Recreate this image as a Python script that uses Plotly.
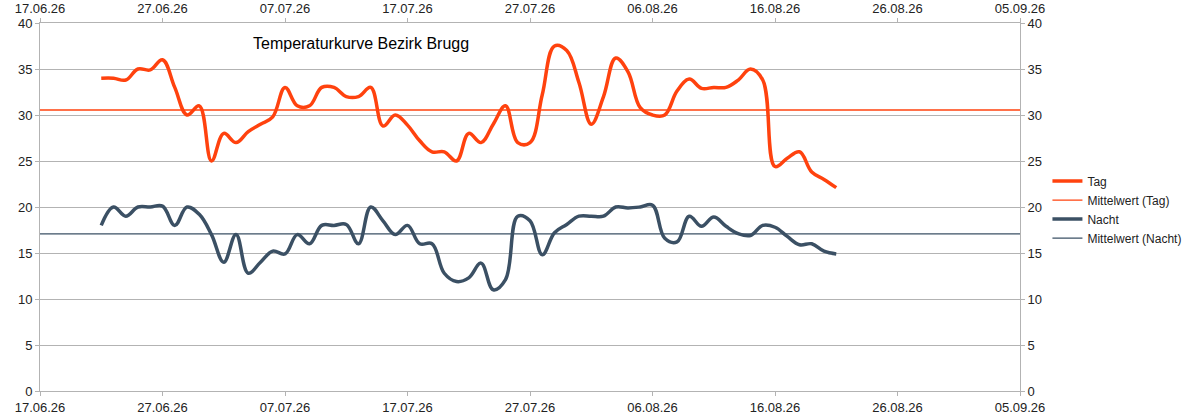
import pandas as pd
import numpy as np
import plotly.graph_objects as go

# ---- data ----
start_date = "2026-06-22"
tag = [34.0, 34.0, 33.8, 35.0, 34.9, 36.0, 33.0, 30.0, 31.0, 25.0,
       28.0, 27.0, 28.2, 29.0, 29.8, 33.0, 31.0, 31.0, 33.0, 33.0,
       32.0, 32.0, 33.0, 28.8, 30.0, 28.9, 27.2, 26.0, 26.0, 25.0,
       28.0, 27.0, 29.0, 31.0, 27.0, 27.0, 32.2, 37.5, 37.0, 33.5,
       29.0, 32.0, 36.2, 34.7, 30.8, 30.0, 30.0, 32.6, 33.9, 32.9,
       33.0, 33.0, 33.8, 35.0, 33.8, 24.4, 25.3, 26.0, 23.8, 23.0, 22.1]
nacht = [18.0, 20.0, 19.0, 20.0, 20.0, 20.1, 18.0, 20.0, 19.2, 17.0,
         14.0, 17.0, 12.8, 14.0, 15.2, 14.9, 17.0, 16.0, 18.0, 18.0,
         18.1, 16.0, 20.0, 18.5, 17.0, 18.0, 16.0, 16.0, 12.8, 11.9,
         12.3, 13.9, 11.0, 12.1, 19.0, 18.5, 14.8, 17.2, 18.1, 19.0,
         19.0, 19.0, 20.0, 19.9, 20.0, 20.2, 16.6, 16.2, 19.0, 17.9,
         18.9, 17.9, 17.1, 16.9, 18.0, 17.8, 16.8, 15.9, 16.0, 15.2, 14.9]
x_range = ["2026-06-17", "2026-09-05"]
title_text = "Temperaturkurve Bezirk Brugg"
names = ["Tag", "Mittelwert (Tag)", "Nacht", "Mittelwert (Nacht)"]

dates = pd.date_range(start_date, periods=len(tag), freq="D")
mean_tag = float(np.mean(tag))
mean_nacht = float(np.mean(nacht))

C_TAG = "#ff420e"
C_NACHT = "#3b5064"
GRID = "#b3b3b3"
FONT = "Liberation Sans"

fig = go.Figure()
fig.add_trace(go.Scatter(x=dates, y=tag, mode="lines", name=names[0],
                         line=dict(color=C_TAG, width=3.5, shape="spline", smoothing=1.1)))
fig.add_trace(go.Scatter(x=x_range, y=[mean_tag, mean_tag], mode="lines", name=names[1],
                         line=dict(color=C_TAG, width=1.3), xaxis="x2", yaxis="y2"))
fig.add_trace(go.Scatter(x=dates, y=nacht, mode="lines", name=names[2],
                         line=dict(color=C_NACHT, width=3.5, shape="spline", smoothing=1.1)))
fig.add_trace(go.Scatter(x=x_range, y=[mean_nacht, mean_nacht], mode="lines", name=names[3],
                         line=dict(color=C_NACHT, width=1.3), xaxis="x2", yaxis="y2"))

xcommon = dict(range=x_range, type="date", tick0=x_range[0], dtick=10 * 86400000,
               tickformat="%d.%m.%y", showgrid=False, showline=True, linecolor=GRID,
               linewidth=1, ticks="outside", ticklen=4, tickcolor=GRID, automargin=False,
               tickfont=dict(size=13, color="#222222", family=FONT), zeroline=False)
ycommon = dict(range=[0, 40], tick0=0, dtick=5, showgrid=True, gridcolor=GRID, gridwidth=1,
               showline=True, linecolor=GRID, linewidth=1, ticks="outside", ticklen=4,
               tickcolor=GRID, tickfont=dict(size=13, color="#222222", family=FONT),
               zeroline=False, automargin=False)

fig.update_layout(
    width=1196, height=418,
    margin=dict(l=40, r=176, t=23, b=27, autoexpand=False),
    paper_bgcolor="white", plot_bgcolor="white",
    font=dict(family=FONT, size=12, color="#222222"),
    showlegend=True,
    legend=dict(x=1.028, xanchor="left", y=0.493, yanchor="middle",
                font=dict(size=12, family=FONT, color="#222222"),
                bgcolor="rgba(0,0,0,0)", borderwidth=0, itemwidth=30),
    xaxis=dict(**xcommon, side="bottom"),
    xaxis2=dict(**xcommon, side="top", overlaying="x"),
    yaxis=dict(**ycommon, side="left"),
    yaxis2=dict(**ycommon, side="right", overlaying="y"),
    annotations=[dict(text=title_text, x=0.3276, y=0.943, xref="paper", yref="paper",
                      xanchor="center", yanchor="middle", showarrow=False,
                      font=dict(size=16, family=FONT, color="#000000"))],
)

fig.write_html("out.html", config={"displayModeBar": False},
               post_script="document.body.style.margin='0px';document.body.style.overflow='hidden';")
